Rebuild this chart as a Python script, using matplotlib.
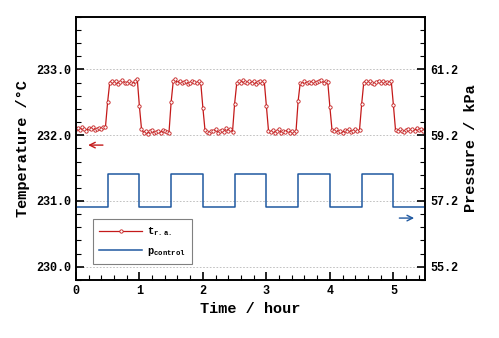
import numpy as np
import matplotlib
matplotlib.use("Agg")
import matplotlib.pyplot as plt
from matplotlib.ticker import MultipleLocator, FixedLocator
from matplotlib.lines import Line2D

plt.rcParams['font.family'] = ['Liberation Mono', 'DejaVu Sans']
plt.rcParams['font.weight'] = 'bold'
plt.rcParams['mathtext.default'] = 'regular'

# sampling every 2 minutes, 0 .. 5.5 h
minutes = np.arange(0, 332, 2)
hours = minutes / 60.0

# t_r.a. temperature (degC)
temp_ra = [
    232.09, 232.11, 232.08, 232.12, 232.10, 232.07, 232.11, 232.09, 232.12, 232.08, 232.10, 232.11, 232.09, 232.12, 232.13,
    232.50,
    232.80, 232.83, 232.79, 232.82, 232.78, 232.81, 232.84, 232.80, 232.79, 232.82, 232.80, 232.78, 232.83, 232.86,
    232.45,
    232.10, 232.04, 232.07, 232.02, 232.06, 232.08, 232.03, 232.05, 232.07, 232.04, 232.08, 232.06, 232.05, 232.04,
    232.50,
    232.82, 232.85, 232.80, 232.83, 232.79, 232.81, 232.82, 232.78, 232.80, 232.83, 232.81, 232.79, 232.82, 232.80,
    232.42,
    232.08, 232.05, 232.03, 232.07, 232.06, 232.09, 232.04, 232.06, 232.08, 232.05, 232.11, 232.07, 232.09, 232.05,
    232.48,
    232.79, 232.82, 232.80, 232.84, 232.81, 232.79, 232.83, 232.80, 232.82, 232.78, 232.81, 232.83, 232.80, 232.82,
    232.44,
    232.07, 232.05, 232.08, 232.04, 232.06, 232.09, 232.03, 232.07, 232.05, 232.08, 232.04, 232.06, 232.03, 232.06,
    232.52,
    232.80, 232.78, 232.82, 232.79, 232.81, 232.80, 232.83, 232.79, 232.81, 232.82, 232.84, 232.80, 232.82, 232.81,
    232.43,
    232.08, 232.06, 232.09, 232.05, 232.07, 232.04, 232.08, 232.06, 232.09, 232.05, 232.07, 232.10, 232.06, 232.08,
    232.47,
    232.80, 232.83, 232.79, 232.82, 232.80, 232.78, 232.81, 232.83, 232.79, 232.82, 232.80, 232.81, 232.79, 232.82,
    232.46,
    232.08, 232.06, 232.09, 232.07, 232.05, 232.08, 232.10, 232.06, 232.09, 232.07, 232.11, 232.08, 232.10, 232.07, 232.09,
]

# p_control pressure (kPa), one level per half hour
p_edges = [0, 0.5, 1.0, 1.5, 2.0, 2.5, 3.0, 3.5, 4.0, 4.5, 5.0, 5.5]
p_levels = [57.02, 58.02, 57.02, 58.02, 57.02, 58.02, 57.02, 58.02, 57.02, 58.02, 57.02, 57.02]

p_ticks = [55.2, 57.2, 59.2, 61.2]

red = '#c41a1a'
blue = '#1f58a0'

fig, ax = plt.subplots(figsize=(4.99, 3.38), dpi=100)
fig.subplots_adjust(left=0.152, right=0.852, top=0.95, bottom=0.172)
ax2 = ax.twinx()

ax.plot(hours, temp_ra, color=red, lw=0.9, marker='o', ms=2.4,
        mfc='white', mec=red, mew=0.6)
ax2.step(p_edges, p_levels, where='post', color=blue, lw=1.1)

ax.set_xlim(0, 5.5)
ax.set_ylim(229.8, 233.8)
ax2.set_ylim(54.8, 62.8)

ax.xaxis.set_major_locator(MultipleLocator(1))
ax.xaxis.set_minor_locator(MultipleLocator(0.2))
ax.yaxis.set_major_locator(MultipleLocator(1))
ax.yaxis.set_minor_locator(MultipleLocator(0.2))
ax2.yaxis.set_major_locator(FixedLocator(p_ticks))
ax2.yaxis.set_minor_locator(FixedLocator(np.arange(54.8, 62.81, 0.4)))
ax.yaxis.set_major_formatter(plt.FormatStrFormatter('%.1f'))
ax2.yaxis.set_major_formatter(plt.FormatStrFormatter('%.1f'))

ax.tick_params(axis='both', which='both', direction='in', top=False, right=False, labelsize=8.5)
ax.tick_params(which='major', length=6, width=1.2)
ax.tick_params(which='minor', length=3.5, width=0.8)
ax2.tick_params(axis='y', which='both', direction='in', labelsize=8.5)
ax2.tick_params(which='major', length=6, width=1.2)
ax2.tick_params(which='minor', length=3.5, width=0.8)

for a in (ax, ax2):
    for s in a.spines.values():
        s.set_linewidth(1.2)

ax.grid(axis='y', which='major', color='#b8b8b8', ls=(0, (2, 2)), lw=0.6)
ax.set_axisbelow(True)

ax.set_xlabel('Time / hour', fontsize=11, fontweight='bold')
ax.set_ylabel('Temperature /°C', fontsize=11, fontweight='bold')
ax2.set_ylabel('Pressure / kPa', fontsize=11, fontweight='bold')

# direction arrows
ax.annotate('', xy=(0.15, 231.85), xytext=(0.47, 231.85),
            arrowprops=dict(arrowstyle='->', color=red, lw=1.0))
ax2.annotate('', xy=(5.37, 56.68), xytext=(5.05, 56.68),
             arrowprops=dict(arrowstyle='->', color=blue, lw=1.0))

handles = [Line2D([], [], color=red, lw=0.9, marker='o', ms=2.4, mfc='white', mec=red, mew=0.6),
           Line2D([], [], color=blue, lw=1.1)]
leg = ax2.legend(handles, ['t$_{r.a.}$', 'p$_{control}$'], loc='lower left',
                 bbox_to_anchor=(0.049, 0.061), borderaxespad=0, fancybox=False,
                 framealpha=1, edgecolor='#808080', fontsize=7.5, handlelength=4.1,
                 handletextpad=0.5, borderpad=0.6, labelspacing=0.7, numpoints=1)
leg.get_frame().set_linewidth(0.8)

fig.savefig('out.png', dpi=100)
